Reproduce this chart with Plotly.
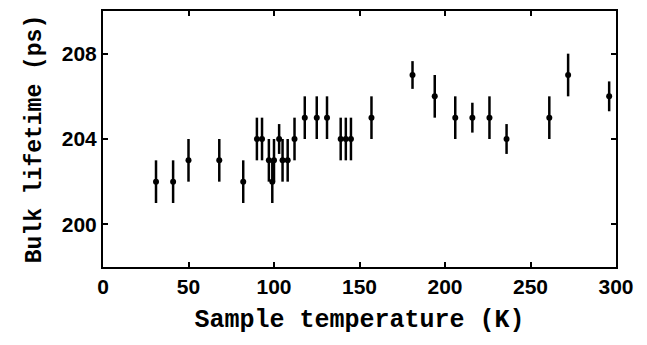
import plotly.graph_objects as go

temperature = [31, 41, 50, 68, 82, 90, 93, 97, 99, 100, 103, 105, 108, 112, 118,
               125, 131, 139, 142, 145, 157, 181, 194, 206, 216, 226, 236, 261, 272, 296]
lifetime = [202, 202, 203, 203, 202, 204, 204, 203, 202, 203, 204, 203, 203, 204, 205,
            205, 205, 204, 204, 204, 205, 207, 206, 205, 205, 205, 204, 205, 207, 206]
error = [1, 1, 1, 1, 1, 1, 1, 1, 1, 1, 0.7, 1, 1, 1, 1,
         1, 1, 1, 1, 1, 1, 0.65, 1, 1, 0.7, 1, 0.7, 1, 1, 0.7]

x_ticks = [0, 50, 100, 150, 200, 250, 300]
y_ticks = [200, 204, 208]

fig = go.Figure()
fig.add_trace(go.Scatter(
    x=temperature, y=lifetime, mode="markers",
    marker=dict(color="black", size=6),
    error_y=dict(type="data", array=error, visible=True, color="black",
                 thickness=2.5, width=0),
    showlegend=False,
))

tickfont = dict(family="Liberation Sans, Arial, sans-serif", size=21, color="black")
xtitlefont = dict(family="Liberation Mono, monospace", size=25, color="black", weight="bold")
ytitlefont = dict(family="Liberation Mono, monospace", size=23, color="black", weight="bold")

fig.update_layout(
    width=647, height=345,
    margin=dict(l=103, r=31, t=9, b=78),
    paper_bgcolor="white", plot_bgcolor="white",
    xaxis=dict(
        range=[0, 300], tickvals=x_ticks, ticktext=[f"<b>{v}</b>" for v in x_ticks],
        ticks="inside", ticklen=5, tickwidth=1.5, tickcolor="black",
        showline=True, linecolor="black", linewidth=2, mirror="ticks",
        showgrid=False, zeroline=False, tickfont=tickfont,
        title=dict(text="Sample temperature (K)", font=xtitlefont, standoff=12),
    ),
    yaxis=dict(
        range=[198, 210], tickvals=y_ticks, ticktext=[f"<b>{v}</b>" for v in y_ticks],
        ticks="inside", ticklen=5, tickwidth=1.5, tickcolor="black",
        showline=True, linecolor="black", linewidth=2, mirror="ticks",
        showgrid=False, zeroline=False, tickfont=tickfont,
        title=dict(text="Bulk lifetime (ps)", font=ytitlefont, standoff=14),
    ),
)

fig.write_html("out.html")
